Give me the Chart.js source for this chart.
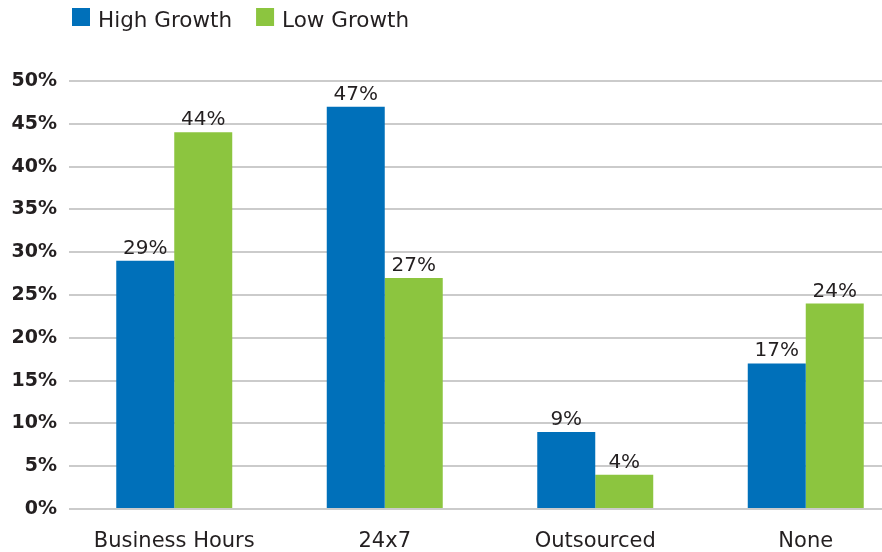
<!DOCTYPE html>
<html>
<head>
<meta charset="utf-8">
<script src="https://cdn.jsdelivr.net/npm/chart.js@4"></script>
<style>
  html, body { margin: 0; padding: 0; background: #fff; overflow: hidden; }
  #wrap { position: relative; width: 911px; height: 552px; }
</style>
</head>
<body>
<div id="wrap"><canvas id="supportChart"></canvas></div>
<script>
// categorias e valores (%)
const categories = ['Business Hours', '24x7', 'Outsourced', 'None'];
const highGrowth = [29, 47, 9, 17];
const lowGrowth = [44, 27, 4, 24];
const yTicks = [0, 5, 10, 15, 20, 25, 30, 35, 40, 45, 50];

const BLUE = '#0070ba';
const GREEN = '#8cc53f';
const TEXT = '#231f20';
const FONT = "'DejaVu Sans', sans-serif";

// Rótulos de valor acima de cada barra
const valueLabels = {
  id: 'valueLabels',
  afterDatasetsDraw(chart) {
    const ctx = chart.ctx;
    ctx.save();
    ctx.font = '20px ' + FONT;
    ctx.fillStyle = TEXT;
    ctx.textAlign = 'center';
    ctx.textBaseline = 'alphabetic';
    chart.data.datasets.forEach((ds, i) => {
      chart.getDatasetMeta(i).data.forEach((bar, j) => {
        ctx.fillText(ds.data[j] + '%', bar.x, bar.y - 7);
      });
    });
    ctx.restore();
  }
};

// Legenda desenhada à mão no canto superior esquerdo
const topLegend = {
  id: 'topLegend',
  afterDraw(chart) {
    const ctx = chart.ctx;
    ctx.save();
    ctx.font = '21.5px ' + FONT;
    ctx.textBaseline = 'alphabetic';
    let x = 72;
    chart.data.datasets.forEach(ds => {
      ctx.fillStyle = ds.backgroundColor;
      ctx.fillRect(x, 8, 18, 18);
      ctx.fillStyle = TEXT;
      ctx.textAlign = 'left';
      ctx.fillText(ds.label, x + 26, 27);
      x += 26 + ctx.measureText(ds.label).width + 24;
    });
    ctx.restore();
  }
};

const ctx = document.getElementById('supportChart').getContext('2d');
new Chart(ctx, {
  type: 'bar',
  data: {
    labels: categories,
    datasets: [
      { label: 'High Growth', data: highGrowth, backgroundColor: BLUE },
      { label: 'Low Growth', data: lowGrowth, backgroundColor: GREEN }
    ]
  },
  options: {
    responsive: true,
    maintainAspectRatio: false,
    animation: false,
    layout: { padding: { top: 81, left: 0, right: 0, bottom: 0 } },
    datasets: {
      bar: { categoryPercentage: 0.551, barPercentage: 1.0 }
    },
    plugins: {
      legend: { display: false },
      tooltip: { enabled: false }
    },
    scales: {
      x: {
        afterFit: axis => { axis.height = 43; },
        grid: { display: false },
        border: { display: false },
        ticks: {
          color: TEXT,
          padding: 12,
          font: { family: FONT, size: 21 }
        }
      },
      y: {
        min: 0,
        max: 50,
        afterBuildTicks: axis => { axis.ticks = yTicks.map(v => ({ value: v })); },
        afterFit: axis => { axis.width = 69; },
        grid: { color: '#cbcbcb', lineWidth: 2, drawTicks: false },
        border: { display: false },
        ticks: {
          color: TEXT,
          padding: 12,
          font: { family: FONT, size: 19, weight: 'bold' },
          callback: v => v + '%'
        }
      }
    }
  },
  plugins: [valueLabels, topLegend]
});
</script>
</body>
</html>
